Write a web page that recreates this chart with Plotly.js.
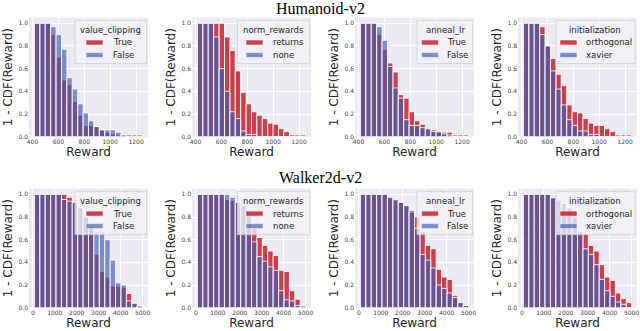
<!DOCTYPE html>
<html><head><meta charset="utf-8">
<script src="https://cdn.plot.ly/plotly-3.0.1.min.js"></script>
<style>html,body{margin:0;padding:0;background:#fff}#chart{width:640px;height:331px}</style>
</head><body><div id="chart"></div>
<script>
// ---- data ----
const envTitles = ['Humanoid-v2', 'Walker2d-v2'];
const hyperparams = ['value_clipping', 'norm_rewards', 'anneal_lr', 'initialization'];
const seriesNames = [['True', 'False'], ['returns', 'none'], ['True', 'False'], ['orthogonal', 'xavier']];

const humanoidBins = [436, 478, 519, 561, 603, 645, 686, 728, 770, 812, 853, 895, 937, 979, 1020, 1062, 1104, 1146, 1187, 1229];
const walkerBins = [193, 440, 686, 933, 1179, 1426, 1672, 1919, 2166, 2412, 2659, 2905, 3152, 3398, 3645, 3891, 4138, 4385, 4631, 4878];

const hValueClippingTrue  = [1, 1, 1, 0.90, 0.70, 0.50, 0.46, 0.31, 0.19, 0.10, 0.10, 0.09, 0.06, 0.04, 0.025, 0.015, 0.015, 0.015, 0.015, 0.015];
const hValueClippingFalse = [1, 1, 1, 0.97, 0.90, 0.77, 0.52, 0.42, 0.29, 0.21, 0.14, 0.09, 0.06, 0.06, 0.06, 0.04, 0.015, 0, 0, 0];
const hNormRewardsReturns = [1, 1, 1, 1, 1, 0.88, 0.76, 0.58, 0.39, 0.29, 0.22, 0.19, 0.16, 0.12, 0.11, 0.07, 0.045, 0.015, 0.015, 0.015];
const hNormRewardsNone    = [1, 1, 1, 0.88, 0.60, 0.40, 0.22, 0.16, 0.05, 0.02, 0.02, 0, 0, 0, 0, 0, 0, 0, 0, 0];
const hAnnealLrTrue  = [1, 1, 1, 0.90, 0.77, 0.65, 0.57, 0.37, 0.34, 0.22, 0.14, 0.11, 0.07, 0.06, 0.04, 0.04, 0.04, 0.015, 0.015, 0.015];
const hAnnealLrFalse = [1, 1, 1, 0.97, 0.85, 0.62, 0.43, 0.34, 0.15, 0.10, 0.10, 0.08, 0.07, 0.045, 0.045, 0.025, 0.015, 0, 0, 0];
const hInitOrthogonal = [1, 1, 1, 0.97, 0.80, 0.69, 0.55, 0.45, 0.28, 0.22, 0.21, 0.16, 0.12, 0.10, 0.10, 0.07, 0.045, 0.015, 0.015, 0.015];
const hInitXavier     = [1, 1, 1, 0.90, 0.80, 0.58, 0.42, 0.28, 0.15, 0.10, 0.05, 0.05, 0.02, 0.02, 0, 0, 0, 0, 0, 0];

const wValueClippingTrue  = [1, 1, 1, 1, 1, 1, 0.975, 0.93, 0.88, 0.80, 0.70, 0.47, 0.32, 0.27, 0.19, 0.19, 0.18, 0.125, 0.04, 0.015];
const wValueClippingFalse = [1, 1, 1, 1, 1, 0.955, 0.94, 0.93, 0.88, 0.80, 0.72, 0.67, 0.67, 0.60, 0.42, 0.22, 0.20, 0.06, 0.04, 0.015];
const wNormRewardsReturns = [1, 1, 1, 1, 1, 0.955, 0.945, 0.93, 0.90, 0.82, 0.70, 0.62, 0.55, 0.50, 0.46, 0.33, 0.32, 0.15, 0.075, 0.015];
const wNormRewardsNone    = [1, 1, 1, 1, 1, 1, 0.975, 0.93, 0.90, 0.82, 0.58, 0.45, 0.41, 0.36, 0.33, 0.15, 0.07, 0.06, 0.02, 0.015];
const wAnnealLrTrue  = [1, 1, 1, 1, 1, 0.97, 0.945, 0.93, 0.90, 0.84, 0.80, 0.67, 0.55, 0.52, 0.34, 0.27, 0.25, 0.11, 0.045, 0.02];
const wAnnealLrFalse = [1, 1, 1, 1, 1, 0.975, 0.955, 0.93, 0.90, 0.86, 0.70, 0.47, 0.42, 0.35, 0.20, 0.17, 0.13, 0.09, 0.045, 0.02];
const wInitOrthogonal = [1, 1, 1, 1, 1, 0.97, 0.95, 0.92, 0.88, 0.80, 0.67, 0.65, 0.55, 0.50, 0.38, 0.27, 0.24, 0.13, 0.08, 0.045];
const wInitXavier     = [1, 1, 1, 1, 1, 0.97, 0.95, 0.92, 0.88, 0.80, 0.67, 0.52, 0.47, 0.38, 0.25, 0.15, 0.10, 0.05, 0.03, 0];

// ---- styling / layout constants ----
const W = 640, H = 331;
const RED = 'rgba(200,30,45,0.85)';
const BLUE = 'rgba(60,90,180,0.65)';
const EDGE = 'rgba(255,255,255,0.85)';
const BG = '#EAEAF2';
const binWidth = [41.75, 246.5];
const xRanges = [[373, 1292], [-176, 5246]];
const xDtick = [200, 1000];
const colLeft = [29, 192, 355, 518], plotW = 119;
const rowTop = [17.6, 188.7], rowBottom = [136.7, 307.7];
const legBoxL = [75, 237.5, 417, 556], legBoxR = [146.5, 309.5, 472.5, 635];
const legPatchL = [86, 246, 421.5, 560], legPatchW = 17;
const legTextL = [110.5, 270.5, 445, 584];
const legTitleC = [110.5, 273.5, 445, 595];
const titleY = [8.5, 177.5];

const panels = [
  [hValueClippingTrue, hValueClippingFalse], [hNormRewardsReturns, hNormRewardsNone],
  [hAnnealLrTrue, hAnnealLrFalse], [hInitOrthogonal, hInitXavier],
  [wValueClippingTrue, wValueClippingFalse], [wNormRewardsReturns, wNormRewardsNone],
  [wAnnealLrTrue, wAnnealLrFalse], [wInitOrthogonal, wInitXavier]
];
const binsByRow = [humanoidBins, walkerBins];

const px = x => x / W;
const py = y => 1 - y / H;
const FONT = 'DejaVu Sans';
const TXT = '#262626';

const traces = [];
const layout = {
  width: W, height: H,
  margin: {l: 0, r: 0, t: 0, b: 0},
  paper_bgcolor: '#ffffff', plot_bgcolor: BG,
  barmode: 'overlay', showlegend: false,
  font: {family: FONT, color: TXT},
  shapes: [], annotations: []
};

panels.forEach((pair, i) => {
  const row = Math.floor(i / 4), col = i % 4;
  const n = i === 0 ? '' : String(i + 1);
  const xs = binsByRow[row];
  const names = seriesNames[col];
  const colors = [RED, BLUE];
  pair.forEach((ys, s) => {
    traces.push({
      type: 'bar', x: xs, y: ys, name: names[s],
      xaxis: 'x' + n, yaxis: 'y' + n,
      width: binWidth[row],
      marker: {color: colors[s], line: {color: EDGE, width: 1}},
      hoverinfo: 'skip'
    });
  });
  const L = colLeft[col];
  layout['xaxis' + n] = {
    domain: [px(L), px(L + plotW)], anchor: 'y' + n,
    range: xRanges[row], tick0: 0, dtick: xDtick[row],
    showgrid: true, gridcolor: '#ffffff', gridwidth: 1,
    zeroline: false, showline: false, ticks: '',
    tickfont: {size: 6, color: '#444', family: FONT},
    title: {text: 'Reward', font: {size: 12, color: TXT, family: FONT}, standoff: 3}
  };
  layout['yaxis' + n] = {
    domain: [py(rowBottom[row]), py(rowTop[row])], anchor: 'x' + n,
    range: [0, 1.05], tick0: 0, dtick: 0.2, tickformat: '.1f',
    showgrid: true, gridcolor: '#ffffff', gridwidth: 1,
    zeroline: false, showline: false, ticks: '',
    tickfont: {size: 6, color: '#444', family: FONT},
    title: {text: '1 - CDF(Reward)', font: {size: 12, color: TXT, family: FONT}, standoff: 3}
  };
  // legend (box, patches, texts)
  const off = rowTop[row] - rowTop[0];
  layout.shapes.push({
    type: 'rect', xref: 'paper', yref: 'paper',
    x0: px(legBoxL[col]), x1: px(legBoxR[col]),
    y0: py(20.5 + off), y1: py(63.5 + off),
    fillcolor: 'rgba(243,243,247,0.8)', line: {color: '#d2d2d2', width: 0.8}
  });
  layout.annotations.push({
    xref: 'paper', yref: 'paper', x: px(legTitleC[col]), y: py(30 + off),
    xanchor: 'center', yanchor: 'middle', showarrow: false,
    text: hyperparams[col], font: {size: 8.5, color: TXT, family: FONT}
  });
  [42.5, 55].forEach((yc, s) => {
    layout.shapes.push({
      type: 'rect', xref: 'paper', yref: 'paper',
      x0: px(legPatchL[col]), x1: px(legPatchL[col] + legPatchW),
      y0: py(yc + 2.5 + off), y1: py(yc - 2.5 + off),
      fillcolor: colors[s], line: {color: EDGE, width: 0.6}
    });
    layout.annotations.push({
      xref: 'paper', yref: 'paper', x: px(legTextL[col]), y: py(yc + off),
      xanchor: 'left', yanchor: 'middle', showarrow: false,
      text: names[s], font: {size: 8.5, color: TXT, family: FONT}
    });
  });
});

envTitles.forEach((t, r) => {
  layout.annotations.push({
    xref: 'paper', yref: 'paper', x: 0.5, y: py(titleY[r]),
    xanchor: 'center', yanchor: 'middle', showarrow: false,
    text: t, font: {size: 16, color: '#000', family: 'Liberation Serif'}
  });
});

Plotly.newPlot('chart', traces, layout, {displayModeBar: false, staticPlot: true});
</script>
</body></html>
